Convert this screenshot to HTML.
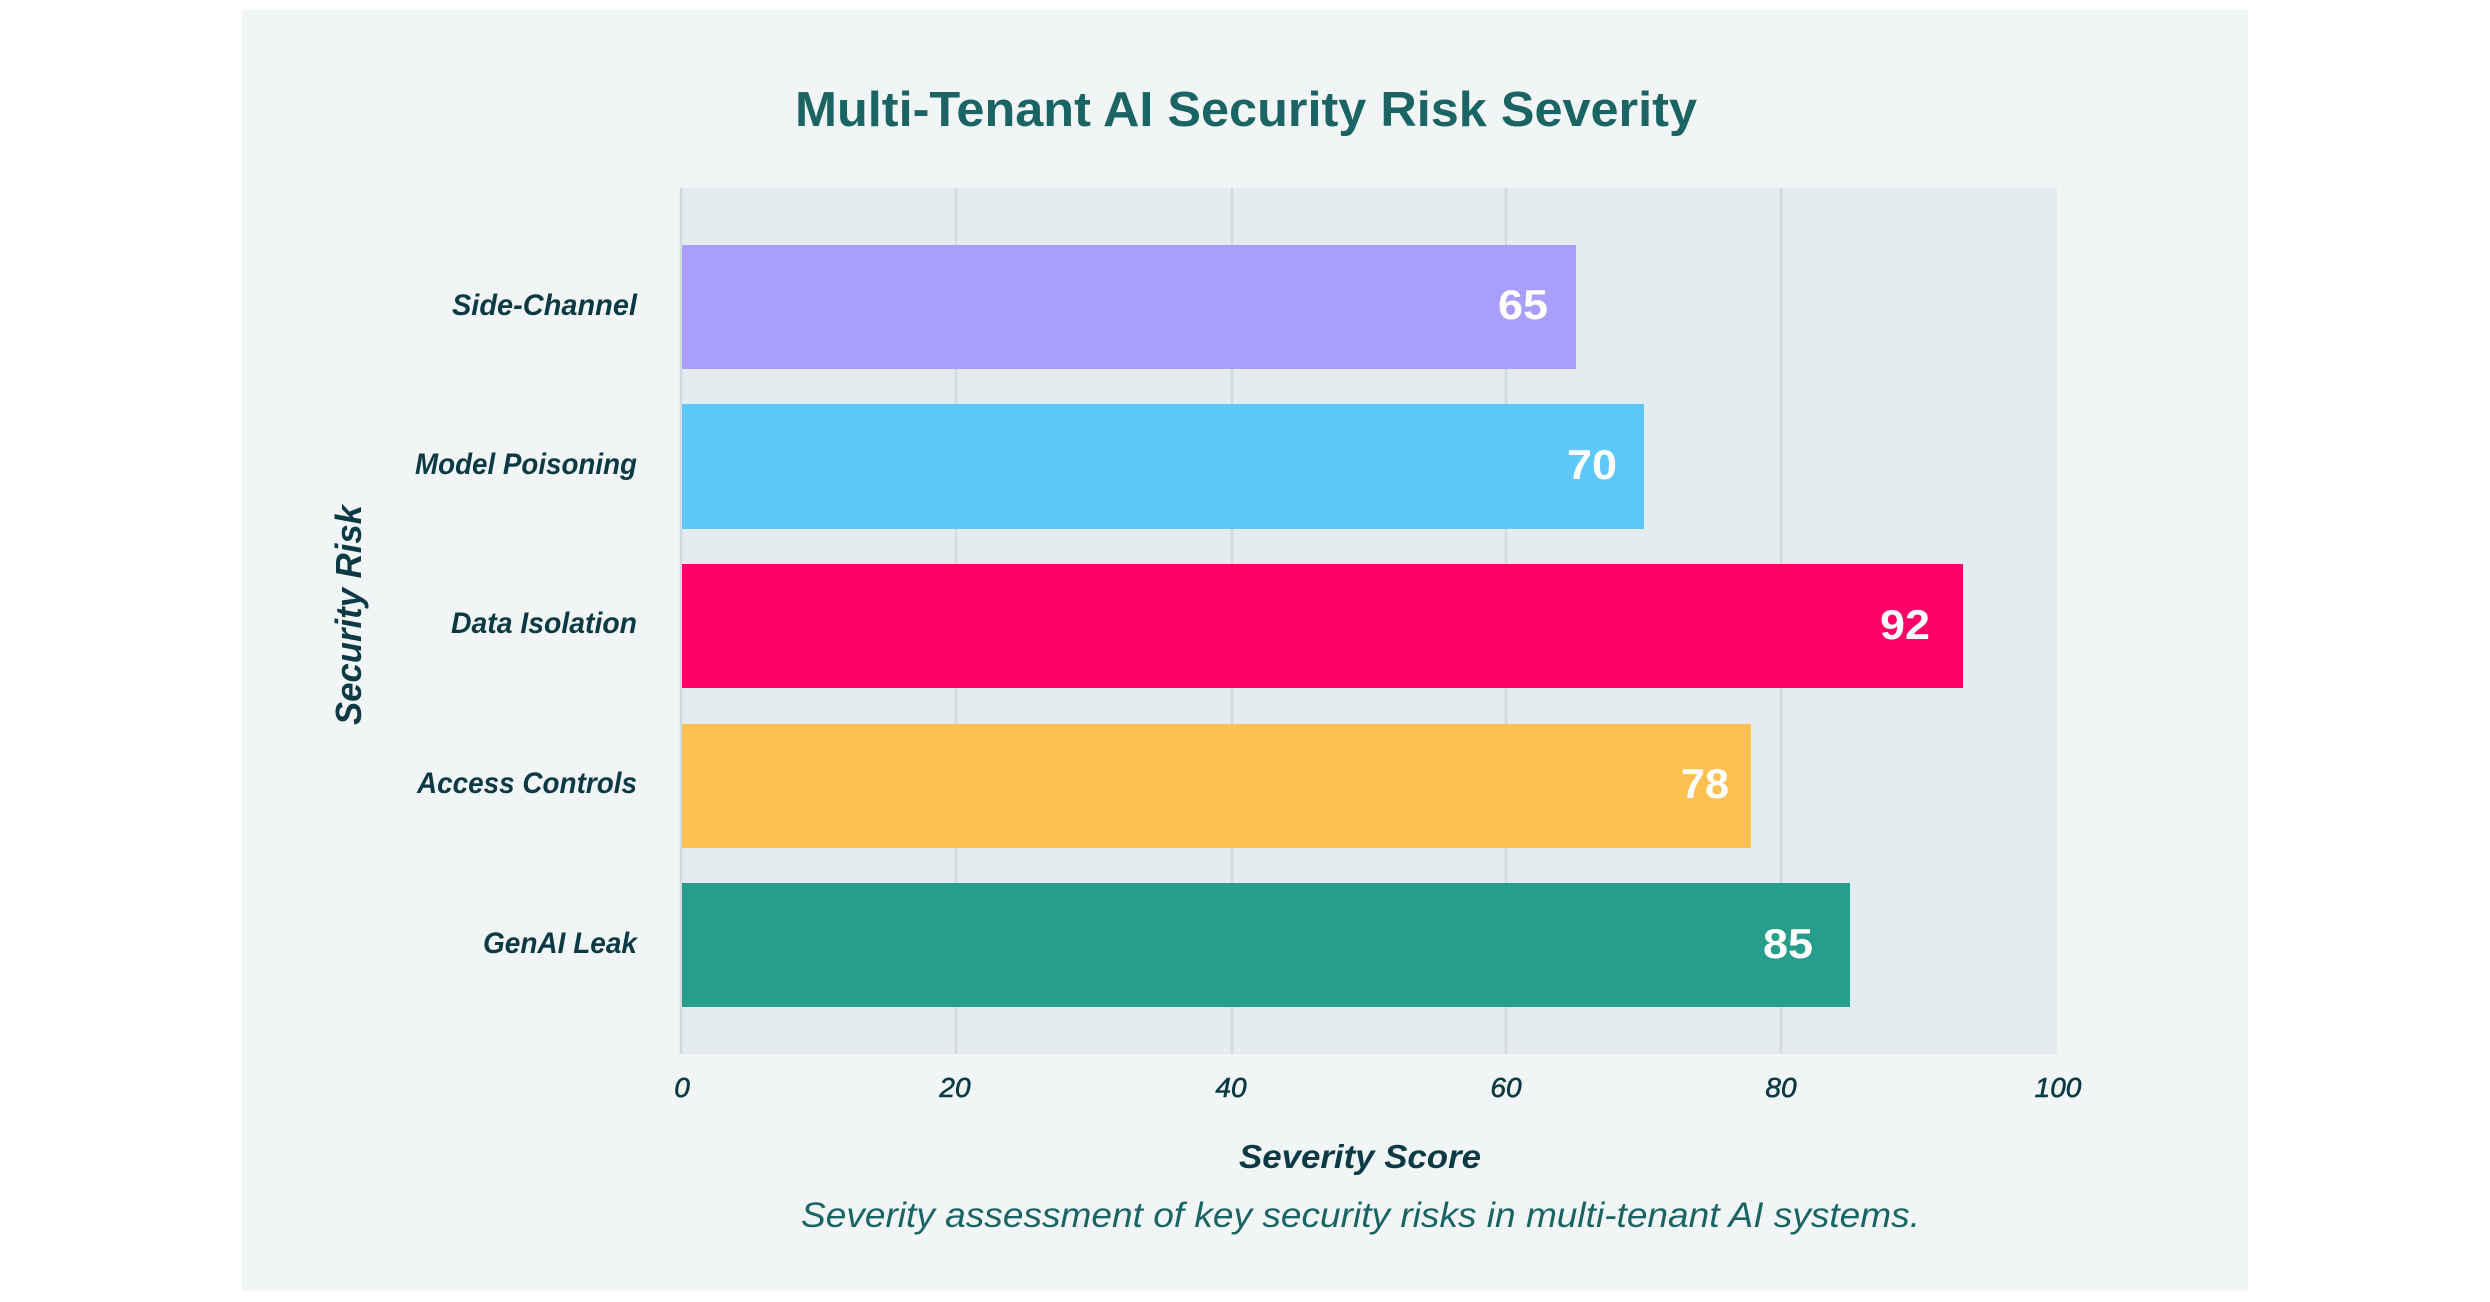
<!DOCTYPE html>
<html>
<head>
<meta charset="utf-8">
<style>
html,body{margin:0;padding:0;background:#ffffff;}
svg{display:block;}
</style>
</head>
<body>
<svg width="2490" height="1302" viewBox="0 0 2490 1302" xmlns="http://www.w3.org/2000/svg">
  <rect x="0" y="0" width="2490" height="1302" fill="#ffffff"/>
  <rect x="242" y="10" width="2006" height="1281" fill="#f1f5f6"/>
  <!-- plot area -->
  <rect x="681" y="188" width="1376" height="866" fill="#e4ecef"/>
  <g stroke="#cfdcdf" stroke-width="2.5">
    <line x1="681" y1="188" x2="681" y2="1054"/>
    <line x1="956" y1="188" x2="956" y2="1054"/>
    <line x1="1232" y1="188" x2="1232" y2="1054"/>
    <line x1="1506" y1="188" x2="1506" y2="1054"/>
    <line x1="1781" y1="188" x2="1781" y2="1054"/>
  </g>
  <!-- bars -->
  <rect x="682" y="245" width="894" height="124" fill="#a99efb"/>
  <rect x="682" y="404" width="962" height="125" fill="#5dc8f9"/>
  <rect x="682" y="564" width="1281" height="124" fill="#ff0066"/>
  <rect x="682" y="724" width="1069" height="124" fill="#ffc052"/>
  <rect x="682" y="883" width="1168" height="124" fill="#279d8c"/>
  <!-- value labels -->
  <g font-family="Liberation Sans, sans-serif" font-weight="bold" font-size="42" fill="#ffffff" text-anchor="end">
    <text x="1548" y="319" textLength="50" lengthAdjust="spacingAndGlyphs">65</text>
    <text x="1617" y="479" textLength="50" lengthAdjust="spacingAndGlyphs">70</text>
    <text x="1930" y="639" textLength="50" lengthAdjust="spacingAndGlyphs">92</text>
    <text x="1729" y="798" textLength="48" lengthAdjust="spacingAndGlyphs">78</text>
    <text x="1813" y="958" textLength="50" lengthAdjust="spacingAndGlyphs">85</text>
  </g>
  <!-- title -->
  <text x="795" y="126" font-family="Liberation Sans, sans-serif" font-weight="bold" font-size="49" fill="#1b6464" textLength="902" lengthAdjust="spacingAndGlyphs">Multi-Tenant AI Security Risk Severity</text>
  <!-- category labels -->
  <g font-family="Liberation Sans, sans-serif" font-weight="bold" font-style="italic" font-size="30" fill="#0b3a44" text-anchor="end">
    <text x="637" y="315" textLength="185" lengthAdjust="spacingAndGlyphs">Side-Channel</text>
    <text x="637" y="474" textLength="222" lengthAdjust="spacingAndGlyphs">Model Poisoning</text>
    <text x="637" y="633" textLength="186" lengthAdjust="spacingAndGlyphs">Data Isolation</text>
    <text x="637" y="793" textLength="220" lengthAdjust="spacingAndGlyphs">Access Controls</text>
    <text x="637" y="953" textLength="154" lengthAdjust="spacingAndGlyphs">GenAI Leak</text>
  </g>
  <!-- y axis title -->
  <text transform="translate(361,615) rotate(-90)" x="0" y="0" text-anchor="middle" font-family="Liberation Sans, sans-serif" font-weight="bold" font-style="italic" font-size="36" fill="#0b3a44" textLength="220" lengthAdjust="spacingAndGlyphs">Security Risk</text>
  <!-- x tick labels -->
  <g font-family="Liberation Sans, sans-serif" font-style="italic" font-size="28" fill="#0b3a44" stroke="#0b3a44" stroke-width="0.6" text-anchor="middle">
    <text x="682" y="1097">0</text>
    <text x="955" y="1097">20</text>
    <text x="1231" y="1097">40</text>
    <text x="1506" y="1097">60</text>
    <text x="1781" y="1097">80</text>
    <text x="2058" y="1097">100</text>
  </g>
  <!-- x axis title -->
  <text x="1239" y="1168" font-family="Liberation Sans, sans-serif" font-weight="bold" font-style="italic" font-size="33" fill="#0b3a44" textLength="242" lengthAdjust="spacingAndGlyphs">Severity Score</text>
  <!-- caption -->
  <text x="801" y="1227" font-family="Liberation Sans, sans-serif" font-style="italic" font-size="35" fill="#1b6464" textLength="1119" lengthAdjust="spacingAndGlyphs">Severity assessment of key security risks in multi-tenant AI systems.</text>
</svg>
</body>
</html>
